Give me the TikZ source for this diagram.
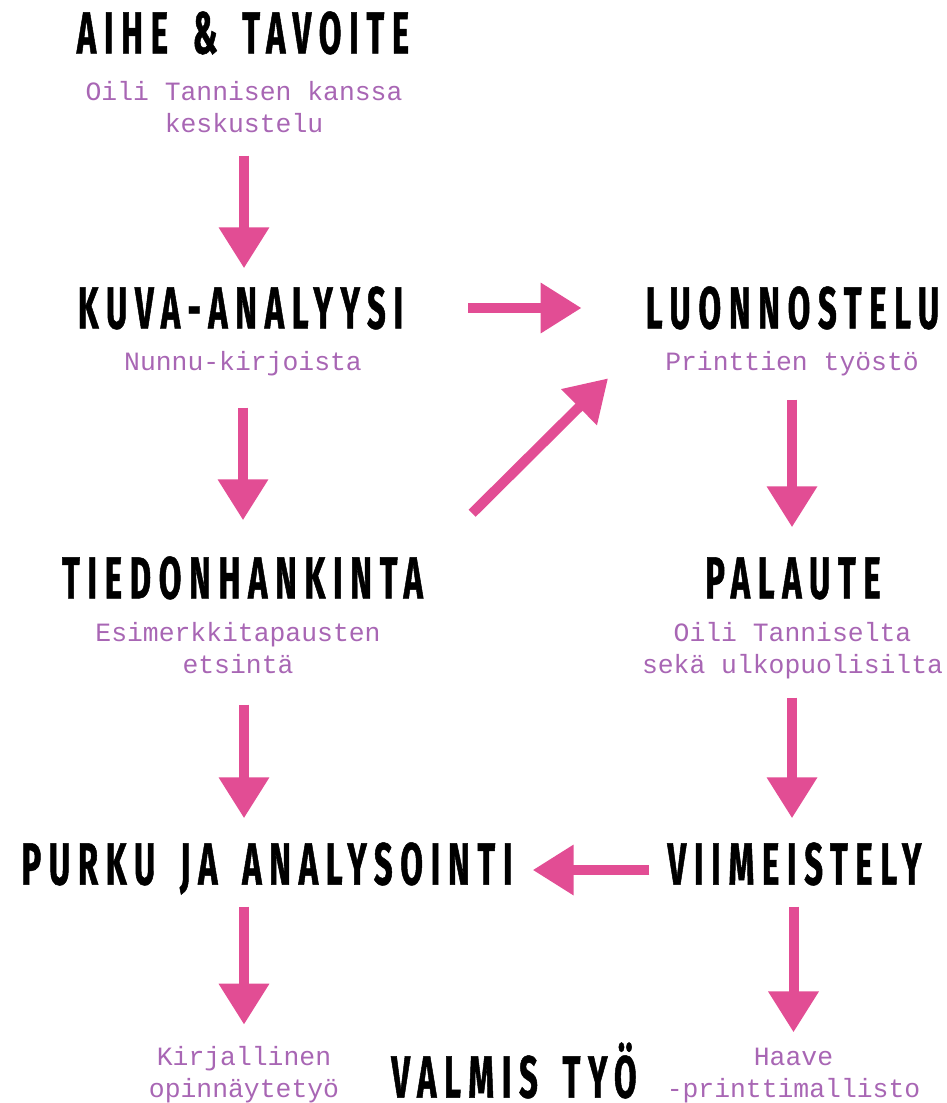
\documentclass[tikz,border=0pt]{standalone}
\usepackage{fontspec}
\usepackage{xcolor}
\usetikzlibrary{arrows.meta, positioning}
\newfontfamily\headfont[FakeStretch=0.55, LetterSpace=13, WordSpace=1.6, FakeBold=0.8]{Fira Sans}
\newfontfamily\subfont{Liberation Mono}
\definecolor{flowpink}{HTML}{E24D94}
\definecolor{notepurple}{HTML}{A866B4}

\begin{document}
\begin{tikzpicture}[x=1pt, y=1pt,
    stage/.style={inner sep=0pt, text height=41pt, text depth=0pt,
        font=\headfont\bfseries\fontsize{59.5}{60}\selectfont},
    note/.style={inner sep=0pt, align=center, anchor=base, text=notepurple,
        font=\subfont\fontsize{26.4}{32}\selectfont},
    flow/.style={draw=flowpink, line width=10pt, -{Triangle[length=41pt, width=48pt]}}]

    \useasboundingbox (0,0) rectangle (947,-1103);

    % left column
    \node[stage] (aihe) at (243,-33) {AIHE \& TAVOITE};
    \node[note] (aihe-sub) at (244,-132) {Oili Tannisen kanssa\\keskustelu};

    \node[stage] (kuva) at (240.5,-308) {KUVA-ANALYYSI};
    \node[note] (kuva-sub) at (243,-370) {Nunnu-kirjoista};

    \node[stage] (tied) at (242.5,-578) {TIEDONHANKINTA};
    \node[note] (tied-sub) at (238,-673) {Esimerkkitapausten\\etsintä};

    \node[stage] (purku) at (267,-864) {PURKU JA ANALYSOINTI};
    \node[note] (kirj) at (244,-1097) {Kirjallinen\\opinnäytetyö};

    % right column
    \node[stage] (luonn) at (792.5,-308) {LUONNOSTELU};
    \node[note] (luonn-sub) at (792,-370) {Printtien työstö};

    \node[stage] (pal) at (793,-578) {PALAUTE};
    \node[note] (pal-sub) at (792.5,-673) {Oili Tanniselta\\sekä ulkopuolisilta};

    \node[stage] (viim) at (794.5,-864) {VIIMEISTELY};
    \node[note] (haave) at (793.5,-1097) {Haave\\-printtimallisto};

    \node[stage] (valmis) at (514,-1077) {VALMIS TYÖ};

    % arrows
    \draw[flow, shorten <=102pt, shorten >=19pt] (aihe-sub |- aihe.south) -- (aihe-sub |- kuva.north);
    \draw[flow, shorten <=79pt, shorten >=37pt] (kuva-sub |- kuva.south) -- (kuva-sub |- tied.north);
    \draw[flow, shorten <=65pt, shorten >=64pt] (kuva.east) -- (luonn.west);
    \draw[flow] ([shift={(49,44)}]tied.north east) -- ++(136,135);
    \draw[flow, shorten <=106pt, shorten >=25pt] (kirj |- tied.south) -- (kirj |- purku.north);
    \draw[flow, shorten <=71pt, shorten >=30pt] (luonn-sub |- luonn.south) -- (luonn-sub |- pal.north);
    \draw[flow, shorten <=99pt, shorten >=25pt] (luonn-sub |- pal.south) -- (luonn-sub |- viim.north);
    \draw[flow, shorten <=18pt, shorten >=20pt] ([yshift=-6pt]viim.west) -- ([yshift=-6pt]purku.east);
    \draw[flow, shorten <=22pt, shorten >=21pt] (kirj |- purku.south) -- (kirj.north);
    \draw[flow, shorten <=22pt, shorten >=15pt] (haave |- viim.south) -- (haave.north);
\end{tikzpicture}
\end{document}
